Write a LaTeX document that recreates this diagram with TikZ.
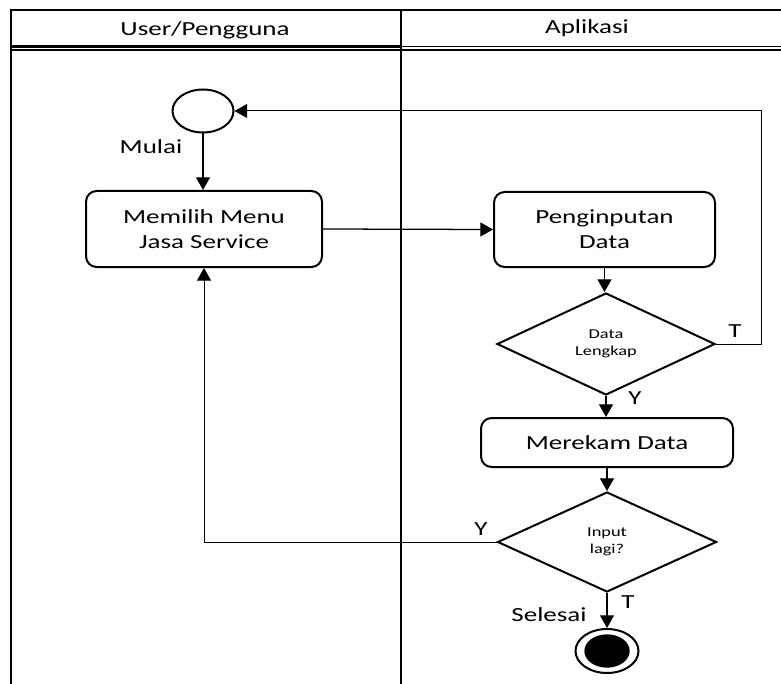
\documentclass[tikz,border=0pt]{standalone}
\usepackage{fontspec}
\setmainfont{Carlito}[FakeStretch=1.35]
\usetikzlibrary{shapes.geometric,arrows.meta}

\tikzset{
  aktivitas/.style={draw,line width=1.5pt,rounded corners=8pt,align=center,inner sep=0pt,font=\fontsize{15}{19}\selectfont},
  keputusan/.style={draw,diamond,line width=1.5pt,inner sep=0pt,align=center,font=\fontsize{10.2}{13}\selectfont},
  panah/.style={-{Triangle[length=9.5pt,width=10.5pt]},line width=0.95pt},
  balik/.style={-{Triangle[length=9.5pt,width=10.5pt]},line width=0.75pt},
  teks/.style={inner sep=0pt,font=\fontsize{15}{18}\selectfont},
}

\begin{document}
\begin{tikzpicture}[x=0.75pt,y=-0.75pt]
    \useasboundingbox (0,0) rectangle (781,684);

    % Swimlane
    \draw[line width=2pt] (11,684) -- (11,10) -- (781,10);
    \draw[line width=2pt] (401,10) -- (401,684);
    \draw[line width=2pt] (11,46.5) -- (401,46.5);
    \draw[line width=1.1pt] (401,46.5) -- (781,46.5);
    \draw[line width=2pt] (11,50) -- (401,50);
    \draw[line width=1.1pt] (401,50) -- (781,50);
    \node[teks] (lajurUser) at (205,30) {User/Pengguna};
    \node[teks] (lajurApp) at (587,28) {Aplikasi};

    % Node aktivitas
    \node[draw,ellipse,line width=1.5pt,minimum width=45.75pt,minimum height=32.25pt,inner sep=0pt] (mulai) at (203,111) {};
    \node[teks] (tMulai) at (151,147) {Mulai};
    \node[aktivitas,minimum width=177pt,minimum height=57pt] (memilih) at (204,229) {Memilih Menu\\Jasa Service};
    \node[aktivitas,minimum width=165.75pt,minimum height=56.25pt] (input) at (604.5,229.5) {Penginputan\\Data};
    \node[keputusan,minimum width=163.5pt,minimum height=76.5pt] (cek) at (606,344) {Data\\Lengkap};
    \node[aktivitas,minimum width=189pt,minimum height=36.75pt] (rekam) at (607,442.5) {Merekam Data};
    \node[keputusan,minimum width=164.25pt,minimum height=75pt] (ulang) at (607,542) {Input\\lagi?};
    \node[draw,ellipse,line width=1.5pt,minimum width=47.25pt,minimum height=33pt,inner sep=0pt] (selesai) at (607,651) {};
    \node[fill,ellipse,minimum width=34pt,minimum height=25pt,inner sep=0pt] (selesaiIsi) at (selesai.center) {};
    \node[teks] (tSelesai) at (549,615) {Selesai};

    % Alur
    \coordinate (sudut) at (761,0);
    \draw[panah] (mulai.south) -- (mulai.south |- memilih.north);
    \draw[panah] (memilih.east) -- (input.west);
    \draw[panah] (input.south) -- (input.south |- cek.north);
    \draw[balik] (cek.east) -- (cek.east -| sudut) |- (mulai.east);
    \node[teks] (tT1) at (735,331) {T};
    \draw[panah] (cek.south) -- (cek.south |- rekam.north);
    \node[teks] (tY1) at (635,398) {Y};
    \draw[panah] (rekam.south) -- (ulang.north);
    \draw[balik] (ulang.west) -| (memilih.south);
    \node[teks] (tY2) at (481,529) {Y};
    \draw[panah] (ulang.south) -- (selesai.north);
    \node[teks] (tT2) at (628,602) {T};

\end{tikzpicture}
\end{document}
